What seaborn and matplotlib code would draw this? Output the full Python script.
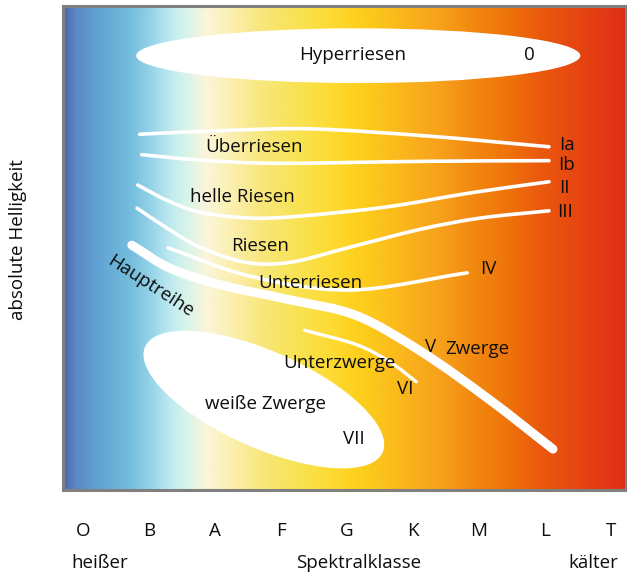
import numpy as np
import matplotlib
matplotlib.use("Agg")
import matplotlib.pyplot as plt
import seaborn as sns
from matplotlib.colors import LinearSegmentedColormap
from matplotlib.path import Path
from matplotlib.patches import PathPatch, Ellipse

# ---- spectral classes (x axis) ----
spectral_classes = ["O", "B", "A", "F", "G", "K", "M", "L", "T"]

# ---- luminosity-class sequences: (spectral index, relative brightness) ----
ia_x = [0.86, 2.23, 3.50, 5.26, 7.06]
ia_y = [5.39, 5.45, 5.47, 5.36, 5.20]

ib_x = [0.89, 1.77, 2.95, 5.17, 7.06]
ib_y = [5.08, 5.00, 4.95, 4.98, 4.99]

ii_x = [0.83, 1.27, 1.77, 2.53, 3.29, 4.61, 5.86, 7.06]
ii_y = [4.62, 4.39, 4.21, 4.12, 4.15, 4.29, 4.50, 4.67]

iii_x = [0.82, 1.27, 1.77, 2.46, 3.14, 4.05, 5.11, 6.02, 7.06]
iii_y = [4.27, 3.97, 3.68, 3.45, 3.45, 3.68, 3.95, 4.12, 4.23]

iv_x = [1.29, 2.53, 4.05, 5.82]
iv_y = [3.67, 3.24, 3.03, 3.29]

main_x = [0.74, 1.32, 2.08, 3.14, 4.15, 5.15, 6.17, 7.12]
main_y = [3.71, 3.36, 3.11, 2.88, 2.64, 2.08, 1.36, 0.62]

vi_x = [3.36, 4.15, 4.65, 5.05]
vi_y = [2.42, 2.20, 1.94, 1.64]

# ---- regions drawn as ellipses: centre x, centre y, width, height, angle ----
hyper_region = [4.17, 6.58, 6.73, 0.83, 0.0]
white_dwarf_region = [2.74, 1.37, 3.94, 1.46, -24.0]

# ---- labels: text, x, y ----
region_labels = ["Hyperriesen", "0", "Überriesen", "helle Riesen", "Riesen",
                 "Unterriesen", "Ia", "Ib", "II", "III", "IV", "V", "Zwerge",
                 "Unterzwerge", "VI", "weiße Zwerge", "VII"]
region_label_x = [4.09, 6.76, 2.59, 2.41, 2.68, 3.45, 7.33, 7.33, 7.29, 7.30,
                  6.14, 5.26, 5.98, 3.89, 4.88, 2.76, 4.11]
region_label_y = [6.59, 6.59, 5.20, 4.44, 3.70, 3.14, 5.23, 4.92, 4.58, 4.21,
                  3.35, 2.17, 2.14, 1.92, 1.53, 1.30, 0.77]

# ---- background temperature colour ramp ----
ramp_pos = [0.0, 0.021, 0.066, 0.119, 0.155, 0.190, 0.217, 0.252, 0.297,
            0.350, 0.403, 0.474, 0.528, 0.599, 0.670, 0.741, 0.785, 0.847,
            0.918, 1.0]
ramp_col = ["#4b66b0", "#5b88c6", "#62a6d4", "#74bede", "#95d3e8", "#bfeaf0",
            "#d6f4ea", "#fbf5dc", "#fbf0b0", "#f8e77e", "#f8e45a", "#fddb34",
            "#fdcf1b", "#fbb81c", "#f7a11b", "#f1840e", "#ef760a", "#ea5a0d",
            "#e64512", "#e02f17"]

FONT = "Open Sans"
FS = 13.5
INK = "#0d0d0d"

sns.set_theme(style="white")
plt.rcParams["font.family"] = [FONT, "DejaVu Sans"]

fig = plt.figure(figsize=(6.27, 5.76), dpi=100)
ax = fig.add_axes([63 / 627, 1 - 490 / 576, 563 / 627, 484 / 576])

xmin, xmax = -0.303, 8.227
ymin, ymax = 0.0, 7.333
ax.set_xlim(xmin, xmax)
ax.set_ylim(ymin, ymax)

cmap = LinearSegmentedColormap.from_list("temp", list(zip(ramp_pos, ramp_col)))
grad = np.linspace(0, 1, 512)[None, :]
ax.imshow(grad, cmap=cmap, extent=[xmin, xmax, ymin, ymax], aspect="auto",
          zorder=0, interpolation="bicubic")


def smooth_path(xs, ys):
    """Cubic Bezier path passing through the given anchor points."""
    p = np.column_stack([xs, ys])
    ext = np.vstack([2 * p[0] - p[1], p, 2 * p[-1] - p[-2]])
    verts = [p[0]]
    codes = [Path.MOVETO]
    for i in range(1, len(ext) - 2):
        p0, p1, p2, p3 = ext[i - 1], ext[i], ext[i + 1], ext[i + 2]
        verts += [p1 + (p2 - p0) / 6, p2 - (p3 - p1) / 6, p2]
        codes += [Path.CURVE4] * 3
    return Path(verts, codes)


thin_lines = [(ia_x, ia_y), (ib_x, ib_y), (ii_x, ii_y), (iii_x, iii_y),
              (iv_x, iv_y)]
for xs, ys in thin_lines:
    ax.add_patch(PathPatch(smooth_path(xs, ys), fill=False, ec="white",
                           lw=2.6, capstyle="round", joinstyle="round", zorder=2))

ax.add_patch(PathPatch(smooth_path(vi_x, vi_y), fill=False, ec="white",
                       lw=2.4, capstyle="round", joinstyle="round", zorder=2))
ax.add_patch(PathPatch(smooth_path(main_x, main_y), fill=False, ec="white",
                       lw=6.5, capstyle="round", joinstyle="round", zorder=2))

for cx, cy, w, h, ang in [hyper_region, white_dwarf_region]:
    ax.add_patch(Ellipse((cx, cy), w, h, angle=ang, fc="white", ec="none",
                         zorder=2))

for t, x, y in zip(region_labels, region_label_x, region_label_y):
    ax.text(x, y, t, ha="center", va="center", fontsize=FS, color=INK,
            zorder=3)

ax.text(1.03, 3.08, "Hauptreihe", rotation=-33, ha="center", va="center",
        fontsize=FS, color=INK, zorder=3, rotation_mode="anchor")

ax.set_xticks(range(len(spectral_classes)))
ax.set_xticklabels(spectral_classes, fontsize=FS, color=INK)
ax.set_yticks([])
ax.tick_params(axis="x", length=0, pad=23)

ax.text(0.26, -0.151, "heißer", transform=ax.get_xaxis_transform(),
        ha="center", va="center", fontsize=FS, color=INK)
ax.text(4.17, -0.151, "Spektralklasse", transform=ax.get_xaxis_transform(),
        ha="center", va="center", fontsize=FS, color=INK)
ax.text(7.73, -0.151, "kälter", transform=ax.get_xaxis_transform(),
        ha="center", va="center", fontsize=FS, color=INK)

ax.set_ylabel("absolute Helligkeit", fontsize=FS, color=INK)
ax.yaxis.set_label_coords(-0.064, 0.517)

for s in ax.spines.values():
    s.set_visible(True)
    s.set_color("#808080")
    s.set_linewidth(2.2)

fig.savefig("out.png", dpi=100)
